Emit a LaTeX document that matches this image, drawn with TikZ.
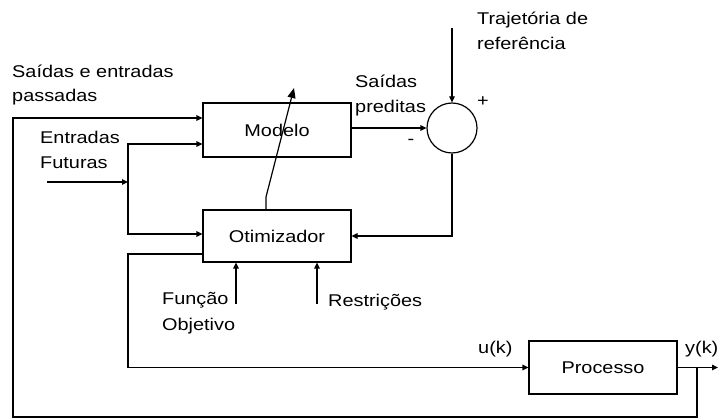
\documentclass[tikz,border=0pt]{standalone}
\usepackage{fontspec}
\setmainfont{Liberation Sans}[FakeStretch=1.17]
\usetikzlibrary{arrows.meta}
\begin{document}
\begin{tikzpicture}[x=1pt,y=-1pt,
  every node/.style={font=\fontsize{17}{24}\selectfont},
  ln/.style={line width=1.2pt, line join=miter},
  arr/.style={ln, -{Triangle[length=6pt,width=5.5pt]}},
  bigarr/.style={ln, -{Triangle[length=10pt,width=8pt]}},
  blk/.style={draw, line width=1.2pt, minimum width=148pt, inner sep=0pt},
  lab/.style={inner sep=0pt, anchor=base west}]
\useasboundingbox (0,0) rectangle (722,419);
% blocks
\node[blk, minimum height=54pt] (modelo) at (277,130) {Modelo};
\node[blk, minimum height=52pt] (otim) at (277,236) {Otimizador};
\node[blk, minimum height=53pt] (proc) at (603,367.5) {Processo};
\node[draw, line width=1.2pt, circle, minimum size=50pt, inner sep=0pt] (circ) at (452,128) {};
% labels
\node[lab] (lpass) at (12,78) {\begin{tabular}[t]{@{}l@{}}Saídas e entradas\\passadas\end{tabular}};
\node[lab] (lfut) at (40,144) {\begin{tabular}[t]{@{}l@{}}Entradas\\[1pt]Futuras\end{tabular}};
\node[lab] (lpred) at (355,88) {\begin{tabular}[t]{@{}l@{}}Saídas\\[1pt]preditas\end{tabular}};
\node[lab] (ltraj) at (477,25) {\begin{tabular}[t]{@{}l@{}}Trajetória de\\[1pt]referência\end{tabular}};
\node[lab] (lfun) at (162,305) {\begin{tabular}[t]{@{}l@{}}Função\\[2pt]Objetivo\end{tabular}};
\node[lab] (lres) at (328,306) {Restrições};
\node[lab] (lu) at (478,353) {u(k)};
\node[lab] (ly) at (685,353) {y(k)};
\node (plus) at (483,102) {+};
\node (minus) at (411,142) {-};
% coordinates
\coordinate (yb) at (697,367.5);
\coordinate (yo) at (718,367.5);
\coordinate (bl) at (13,417);
\coordinate (tl) at (13,118);
\coordinate (ef) at (47,182);
\coordinate (j) at (128,182);
\coordinate (jm) at (128,144);
\coordinate (jo) at (128,234);
\coordinate (tr) at (452,28);
\coordinate (ou) at (128,254);
\coordinate (fo) at (236,304);
\coordinate (re) at (317,304);
\coordinate (d1) at (266,197);
\coordinate (d2) at (294,88);
% connectors
\draw[arr] (proc.east) -- (yo);
\draw[arr] (yb) |- (bl) -- (tl) -- (tl -| modelo.west);
\draw[arr] (ef) -- (j);
\draw[arr] (j) -- (jm) -- (jm -| modelo.west);
\draw[arr] (j) -- (jo) -- (jo -| otim.west);
\draw[arr] (modelo.east |- circ.west) -- (circ.west);
\draw[arr] (tr) -- (circ.north);
\draw[arr] (circ.south) |- (otim.east);
\draw[arr] (ou -| otim.west) -- (ou) |- (proc.west);
\draw[arr] (fo) -- (fo |- otim.south);
\draw[arr] (re) -- (re |- otim.south);
\draw[bigarr] (d1 |- otim.north) -- (d1) -- (d2);
\end{tikzpicture}
\end{document}
